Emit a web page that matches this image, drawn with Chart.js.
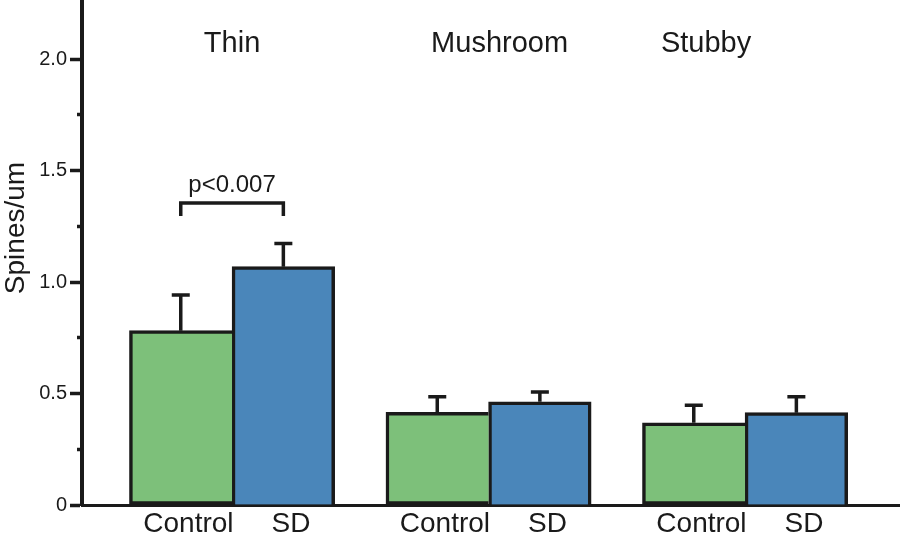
<!DOCTYPE html>
<html>
<head>
<meta charset="utf-8">
<title>Spines/um</title>
<script src="https://cdn.jsdelivr.net/npm/chart.js@4.4.0/dist/chart.umd.min.js"></script>
<style>
  html, body { margin: 0; padding: 0; background: #fff; }
  #wrap { width: 900px; height: 539px; position: relative; }
</style>
</head>
<body>
<div id="wrap"><canvas id="spineChart"></canvas></div>
<script>
// data
var categories = ['Thin', 'Mushroom', 'Stubby'];
var groups = ['Control', 'SD'];
var controlMean = [0.782, 0.416, 0.369];
var controlErr = [0.160, 0.070, 0.078];
var sdMean = [1.069, 0.463, 0.414];
var sdErr = [0.104, 0.044, 0.072];
var yTicks = [0, 0.25, 0.5, 0.75, 1, 1.25, 1.5, 1.75, 2];
var yTickLabels = ['0', '', '0.5', '', '1.0', '', '1.5', '', '2.0'];
var sigCategory = 0;
var sigLevel = 1.355;
var sigText = 'p<0.007';
var yTitle = 'Spines/um';

var ink = '#1a1a1a';
var fam = '"Liberation Sans", Arial, Helvetica, sans-serif';
var xMin = -0.585, xMax = 2.604;
var unitPx = 818 / (xMax - xMin);
var labelShift = 0.03;
var titleShift = [0, 0.043, -0.152];

var toPoints = (arr) => arr.map((v, i) => ({x: i, y: v}));

var annotate = {
  id: 'annotate',
  afterDatasetsDraw(chart) {
    let ctx = chart.ctx;
    let xs = chart.scales.x, ys = chart.scales.y;
    ctx.save();
    ctx.strokeStyle = ink;
    ctx.lineWidth = 3.5;

    // error bars, upper side only
    [[controlMean, controlErr], [sdMean, sdErr]].forEach((pair, d) => {
      chart.getDatasetMeta(d).data.forEach((bar, i) => {
        let top = ys.getPixelForValue(pair[0][i] + pair[1][i]);
        ctx.beginPath();
        ctx.moveTo(bar.x, bar.y);
        ctx.lineTo(bar.x, top);
        ctx.moveTo(bar.x - 9, top);
        ctx.lineTo(bar.x + 9, top);
        ctx.stroke();
      });
    });

    // significance bracket
    let b1 = chart.getDatasetMeta(0).data[sigCategory].x;
    let b2 = chart.getDatasetMeta(1).data[sigCategory].x;
    let by = ys.getPixelForValue(sigLevel);
    ctx.beginPath();
    ctx.moveTo(b1, by + 13);
    ctx.lineTo(b1, by);
    ctx.lineTo(b2, by);
    ctx.lineTo(b2, by + 13);
    ctx.stroke();

    ctx.fillStyle = ink;
    ctx.textAlign = 'center';
    ctx.textBaseline = 'alphabetic';
    ctx.font = '24px ' + fam;
    ctx.fillText(sigText, (b1 + b2) / 2, by - 11);

    // category names
    ctx.font = '29px ' + fam;
    categories.forEach((c, i) => {
      ctx.fillText(c, xs.getPixelForValue(i + titleShift[i]), 52);
    });

    // y title
    ctx.translate(16, 228);
    ctx.rotate(-Math.PI / 2);
    ctx.font = '28px ' + fam;
    ctx.textBaseline = 'middle';
    ctx.fillText(yTitle, 0, 0);
    ctx.restore();
  }
};

var chart = new Chart(document.getElementById('spineChart'), {
  type: 'bar',
  data: {
    datasets: [
      {
        label: groups[0],
        data: toPoints(controlMean),
        backgroundColor: '#7dc07a',
        borderColor: ink,
        borderWidth: 3.5,
        borderSkipped: 'right',
        barThickness: 0.4 * unitPx
      },
      {
        label: groups[1],
        data: toPoints(sdMean),
        backgroundColor: '#4a86ba',
        borderColor: ink,
        borderWidth: 3.5,
        borderSkipped: 'bottom',
        barThickness: 0.4 * unitPx
      }
    ]
  },
  options: {
    responsive: true,
    maintainAspectRatio: false,
    animation: false,
    layout: { padding: 0 },
    plugins: {
      legend: { display: false },
      tooltip: { enabled: false }
    },
    scales: {
      x: {
        type: 'linear',
        min: xMin,
        max: xMax,
        offset: false,
        grid: { display: false, offset: false, drawTicks: false },
        border: { color: ink, width: 3 },
        afterBuildTicks: (s) => {
          s.ticks = [];
          categories.forEach((c, i) => {
            s.ticks.push({ value: i - 0.2 + labelShift });
            s.ticks.push({ value: i + 0.2 + labelShift });
          });
        },
        afterFit: (s) => { s.height = 34; s.paddingLeft = 0; s.paddingRight = 0; },
        ticks: {
          padding: 2,
          color: ink,
          maxRotation: 0,
          autoSkip: false,
          font: { family: fam, size: 28 },
          callback: (v, i) => groups[i % 2]
        }
      },
      y: {
        min: 0,
        max: 2.265,
        afterBuildTicks: (s) => { s.ticks = yTicks.map(v => ({ value: v })); },
        afterFit: (s) => { s.width = 82; s.paddingTop = 0; s.paddingBottom = 0; },
        border: { color: ink, width: 4 },
        grid: {
          drawOnChartArea: false,
          tickLength: 12,
          tickWidth: 3.5,
          tickColor: ink,
          tickBorderDash: [12, 12],
          tickBorderDashOffset: (c) => c.index % 2 ? 17 : 0
        },
        ticks: {
          padding: 3,
          color: ink,
          font: { family: fam, size: 20 },
          callback: (v, i) => yTickLabels[i]
        }
      }
    }
  },
  plugins: [annotate]
});
</script>
</body>
</html>
